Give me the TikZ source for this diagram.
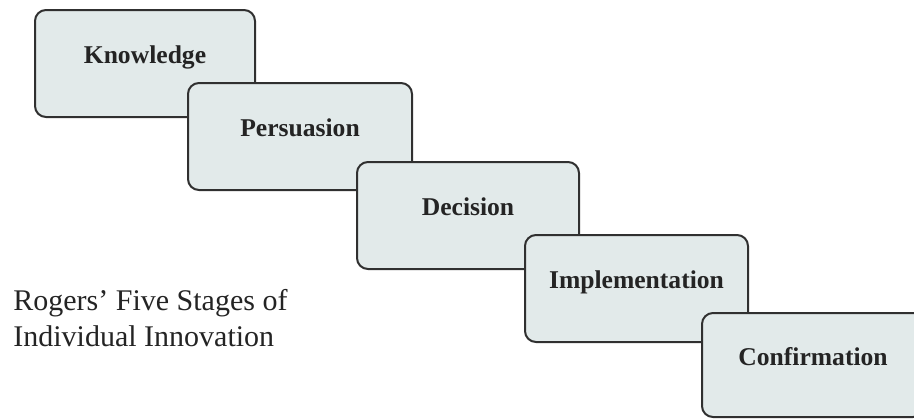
\documentclass[tikz,border=0pt]{standalone}
\usepackage{fontspec}
\setmainfont{Liberation Serif}
\definecolor{stagefill}{RGB}{226,234,234}
\definecolor{edgegray}{RGB}{48,48,48}
\definecolor{inkgray}{RGB}{36,36,36}
\begin{document}
\begin{tikzpicture}[x=0.5pt,y=-0.5pt,
  stage/.style={draw=edgegray, line width=1pt, fill=stagefill,
    rounded corners=5.5pt, minimum height=53.5pt, inner sep=0pt,
    outer sep=0pt, anchor=north west, text height=0pt, text depth=0pt,
    font=\fontsize{12.8}{14}\selectfont\bfseries, text=inkgray},
  caption/.style={anchor=base west, align=left, inner sep=0pt,
    font=\fontsize{15}{18}\selectfont, text=inkgray}]
  \useasboundingbox (0,0) rectangle (914,419);
  \clip (0,0) rectangle (914,419);
  % staircase of stages, each one drawn over the previous
  \node[stage, minimum width=110pt] (know) at (35,10)  {Knowledge};
  \node[stage, minimum width=112pt] (pers) at (188,83) {Persuasion};
  \node[stage, minimum width=111pt] (deci) at (357,162) {Decision};
  \node[stage, minimum width=111.5pt] (impl) at (525,235) {Implementation};
  \node[stage, minimum width=111pt, minimum height=52pt] (conf) at (702,313) {Confirmation};
  % title
  \node[caption] (title) at (13,346) {Rogers’ Five Stages of\\Individual Innovation};
\end{tikzpicture}
\end{document}
